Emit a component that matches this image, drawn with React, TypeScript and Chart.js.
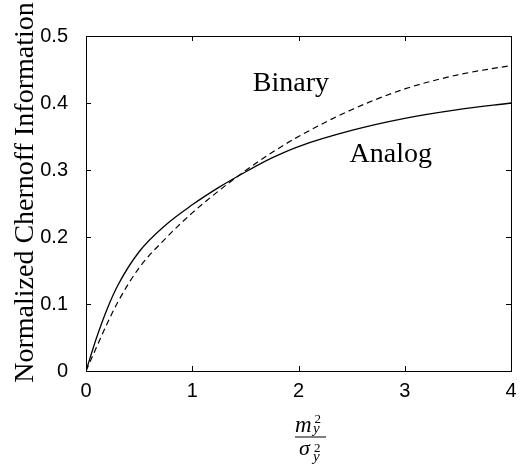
import { useEffect, useRef } from "react";
import { Chart, registerables } from "chart.js";

Chart.register(...registerables);

const xValues = [0, 0.1, 0.2, 0.3, 0.5, 0.75, 1, 1.25, 1.5, 1.75, 2, 2.5, 3, 3.5, 4];
const analogValues = [0, 0.05, 0.093, 0.128, 0.178, 0.218, 0.248, 0.274, 0.297, 0.318, 0.335, 0.359, 0.377, 0.39, 0.4];
const binaryValues = [0, 0.036, 0.071, 0.103, 0.154, 0.198, 0.236, 0.269, 0.299, 0.326, 0.35, 0.39, 0.421, 0.442, 0.456];

const xTicks = [0, 1, 2, 3, 4];
const yTicks = [0, 0.1, 0.2, 0.3, 0.4, 0.5];

const curveLabels = [
  { text: "Binary", x: 1.57, y: 0.418 },
  { text: "Analog", x: 2.48, y: 0.312 },
];

const yTitle = "Normalized Chernoff Information";

const SERIF = '"Liberation Serif", "Times New Roman", serif';
const SANS = '"Liberation Sans", Arial, sans-serif';

const decorPlugin = {
  id: "decor",
  afterDraw(chart: any) {
    const { ctx, chartArea, scales } = chart;
    const { left, right, top, bottom } = chartArea;
    const xs = scales.x;
    const ys = scales.y;
    ctx.save();
    ctx.strokeStyle = "#000";
    ctx.fillStyle = "#000";
    ctx.lineWidth = 1;
    // box
    ctx.strokeRect(Math.round(left) + 0.5, Math.round(top) + 0.5, Math.round(right - left), Math.round(bottom - top));
    // inward ticks
    ctx.beginPath();
    xs.ticks.forEach((t: any) => {
      const px = Math.round(xs.getPixelForValue(t.value)) + 0.5;
      ctx.moveTo(px, bottom);
      ctx.lineTo(px, bottom - 5);
      ctx.moveTo(px, top);
      ctx.lineTo(px, top + 5);
    });
    ys.ticks.forEach((t: any) => {
      const py = Math.round(ys.getPixelForValue(t.value)) + 0.5;
      ctx.moveTo(left, py);
      ctx.lineTo(left + 5, py);
      ctx.moveTo(right, py);
      ctx.lineTo(right - 5, py);
    });
    ctx.stroke();

    // curve labels
    ctx.font = `28px ${SERIF}`;
    ctx.textAlign = "left";
    ctx.textBaseline = "alphabetic";
    curveLabels.forEach((l) => {
      ctx.fillText(l.text, xs.getPixelForValue(l.x), ys.getPixelForValue(l.y));
    });

    // y title
    ctx.save();
    ctx.translate(33, (top + bottom) / 2 - 11);
    ctx.rotate(-Math.PI / 2);
    ctx.textAlign = "center";
    ctx.font = `28px ${SERIF}`;
    ctx.fillText(yTitle, 0, 0);
    ctx.restore();

    // x title: fraction m_y^2 / sigma_y^2
    const cx = (left + right) / 2 + 11.5;
    const fl = cx - 15;
    ctx.textAlign = "left";
    ctx.font = `italic 23px ${SERIF}`;
    ctx.fillText("m", fl, 431.5);
    ctx.font = `13px ${SERIF}`;
    ctx.fillText("2", fl + 19.5, 422.5);
    ctx.font = `italic 15px ${SERIF}`;
    ctx.fillText("y", fl + 18, 433);
    ctx.fillRect(fl, 436.5, 31, 1);
    ctx.font = `italic 22px ${SERIF}`;
    ctx.fillText("σ", fl + 4, 455);
    ctx.font = `13px ${SERIF}`;
    ctx.fillText("2", fl + 19, 451.5);
    ctx.font = `italic 15px ${SERIF}`;
    ctx.fillText("y", fl + 18, 461);
    ctx.restore();
  },
};

export default function App() {
  const ref = useRef<HTMLCanvasElement>(null);
  useEffect(() => {
    document.body.style.margin = "0";
    const chart = new Chart(ref.current as HTMLCanvasElement, {
      type: "line",
      data: {
        datasets: [
          {
            label: "Analog",
            data: xValues.map((x, i) => ({ x, y: analogValues[i] })),
            borderColor: "#000",
            borderWidth: 1.3,
            pointRadius: 0,
            fill: false,
            cubicInterpolationMode: "monotone",
          },
          {
            label: "Binary",
            data: xValues.map((x, i) => ({ x, y: binaryValues[i] })),
            borderColor: "#000",
            borderWidth: 1.2,
            borderDash: [6, 4],
            pointRadius: 0,
            fill: false,
            cubicInterpolationMode: "monotone",
          },
        ],
      },
      options: {
        animation: false,
        responsive: false,
        layout: { padding: { top: 36, right: 16, left: 0, bottom: 0 } },
        plugins: { legend: { display: false }, tooltip: { enabled: false } },
        scales: {
          x: {
            type: "linear",
            min: 0,
            max: 4,
            afterBuildTicks: (s: any) => {
              s.ticks = xTicks.map((v) => ({ value: v }));
            },
            ticks: { color: "#000", font: { family: SANS, size: 20 }, padding: 0, maxRotation: 0 },
            grid: { display: false },
            border: { display: false },
            afterFit: (s: any) => {
              s.height = 93;
            },
          },
          y: {
            type: "linear",
            min: 0,
            max: 0.5,
            afterBuildTicks: (s: any) => {
              s.ticks = yTicks.map((v) => ({ value: v }));
            },
            ticks: { color: "#000", font: { family: SANS, size: 20 }, padding: 10 },
            grid: { display: false },
            border: { display: false },
            afterFit: (s: any) => {
              s.width = 86;
            },
          },
        },
      },
      plugins: [decorPlugin],
    } as any);
    return () => chart.destroy();
  }, []);
  return (
    <div style={{ width: 527, height: 464 }}>
      <canvas ref={ref} width={527} height={464} style={{ display: "block" }} />
    </div>
  );
}
